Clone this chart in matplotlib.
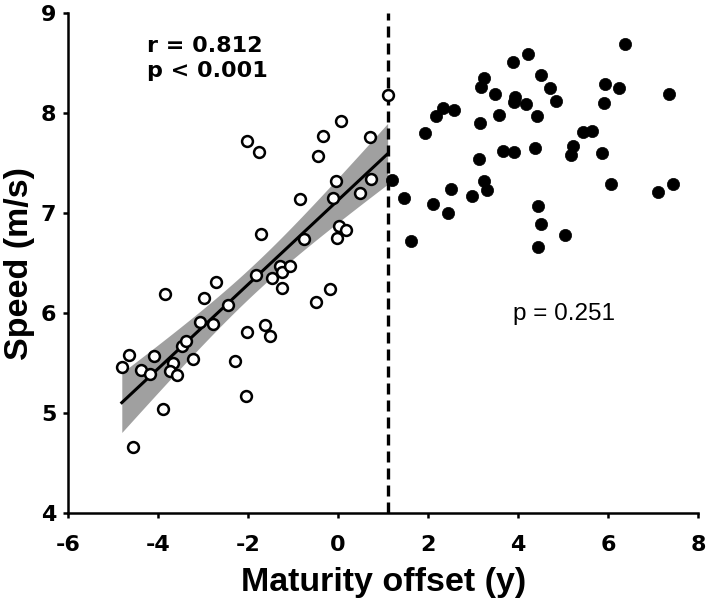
import numpy as np
import matplotlib
matplotlib.use("Agg")
import matplotlib.pyplot as plt

plt.rcParams['font.family'] = ['Liberation Sans', 'DejaVu Sans']
plt.rcParams['axes.unicode_minus'] = False

# pre-PHV (open circles)
pre_offset = [-4.81, -4.65, -4.38, -4.19, -4.09, -3.86, -3.89, -4.57, -3.67, -3.73,
              -3.58, -3.47, -3.38, -3.22, -2.99, -3.08, -2.78, -2.72, -2.44, -2.29,
              -2.02, -2.06, -1.82, -1.63, -1.51, -1.47, -1.30, -1.24, -1.07, -1.25,
              -0.50, -0.19, -2.03, -1.75, -1.72, -0.84, -0.75, -0.44, -0.33, 0.06,
              -0.04, -0.12, 0.01, 0.17, -0.02, 0.49, 0.70, 0.73, 1.10]
pre_speed = [5.46, 5.58, 5.43, 5.39, 5.57, 6.19, 5.04, 4.66, 5.50, 5.42,
             5.38, 5.67, 5.72, 5.54, 6.15, 5.91, 5.89, 6.31, 6.08, 5.52,
             5.81, 5.17, 6.38, 5.88, 5.77, 6.35, 6.47, 6.41, 6.47, 6.25,
             6.11, 6.24, 7.72, 7.61, 6.79, 7.14, 6.74, 7.57, 7.77, 7.92,
             7.32, 7.15, 6.87, 6.83, 6.75, 7.20, 7.76, 7.34, 8.18]

# post-PHV (filled circles)
post_offset = [1.19, 1.47, 1.63, 1.93, 2.10, 2.17, 2.33, 2.58, 2.50, 2.45,
               2.98, 3.14, 3.16, 3.17, 3.25, 3.24, 3.30, 3.48, 3.58, 3.66,
               3.88, 3.91, 3.93, 3.90, 4.18, 4.23, 4.38, 4.42, 4.52, 4.44,
               4.50, 4.44, 4.70, 4.84, 5.04, 5.18, 5.23, 5.45, 5.65, 5.87,
               5.91, 5.93, 6.07, 6.24, 6.38, 7.12, 7.35, 7.44]
post_speed = [7.33, 7.15, 6.72, 7.80, 7.09, 7.97, 8.05, 8.03, 7.24, 7.00,
              7.17, 7.54, 7.90, 8.26, 8.35, 7.32, 7.23, 8.19, 7.98, 7.62,
              8.51, 7.61, 8.16, 8.11, 8.09, 8.59, 7.65, 7.97, 8.38, 7.07,
              6.89, 6.66, 8.25, 8.12, 6.78, 7.58, 7.67, 7.81, 7.82, 7.60,
              8.10, 8.29, 7.29, 8.25, 8.69, 7.21, 8.19, 7.29]

phv_line = 1.1

x = np.array(pre_offset)
y = np.array(pre_speed)

# linear fit + 95% confidence band
slope, intercept = np.polyfit(x, y, 1)
n = len(x)
resid = y - (slope * x + intercept)
s = np.sqrt(np.sum(resid ** 2) / (n - 2))
sxx = np.sum((x - x.mean()) ** 2)
xf = np.linspace(x.min(), x.max(), 100)
yf = slope * xf + intercept
half = 2.012 * s * np.sqrt(1 / n + (xf - x.mean()) ** 2 / sxx)

fig = plt.figure(figsize=(7.09, 6.07), dpi=100)
ax = fig.add_axes([0.0963, 0.155, 0.8882, 0.823])

ax.fill_between(xf, yf - half, yf + half, color='#a0a0a0', lw=0, zorder=1)
ax.plot(xf, yf, color='black', lw=2.2, zorder=2)
ax.plot(post_offset, post_speed, 'o', color='black', ms=8.8, mew=0.5, zorder=3)
ax.plot(pre_offset, pre_speed, 'o', mfc='white', mec='black', mew=1.8, ms=7.8, zorder=4)
ax.axvline(phv_line, color='black', lw=2.4, dashes=(3.3, 1.8), zorder=2.5)

ax.set_xlim(-6, 8)
ax.set_ylim(4, 9)
ax.set_xticks(np.arange(-6, 9, 2))
ax.set_yticks(np.arange(4, 10, 1))

for side in ['top', 'right']:
    ax.spines[side].set_visible(False)
for side in ['left', 'bottom']:
    ax.spines[side].set_linewidth(1.8)

ax.tick_params(width=1.8, length=3.6)
ax.tick_params(axis='x', pad=12)
ax.tick_params(axis='y', pad=5)
for lab in ax.get_xticklabels() + ax.get_yticklabels():
    lab.set_fontfamily('DejaVu Sans')
    lab.set_fontweight('bold')
    lab.set_fontsize(16)

ax.set_xlabel('Maturity offset (y)', fontsize=24.5, fontweight='bold', labelpad=9)
ax.set_ylabel('Speed (m/s)', fontsize=24.5, fontweight='bold', labelpad=4)

ax.text(-4.26, 8.616, 'r = 0.812', fontsize=16, fontweight='bold',
        family='DejaVu Sans', ha='left', va='baseline')
ax.text(-4.26, 8.366, 'p < 0.001', fontsize=16, fontweight='bold',
        family='DejaVu Sans', ha='left', va='baseline')
ax.text(5.02, 5.933, 'p = 0.251', fontsize=17.5, ha='center', va='baseline')

fig.savefig('out.png', dpi=100)
